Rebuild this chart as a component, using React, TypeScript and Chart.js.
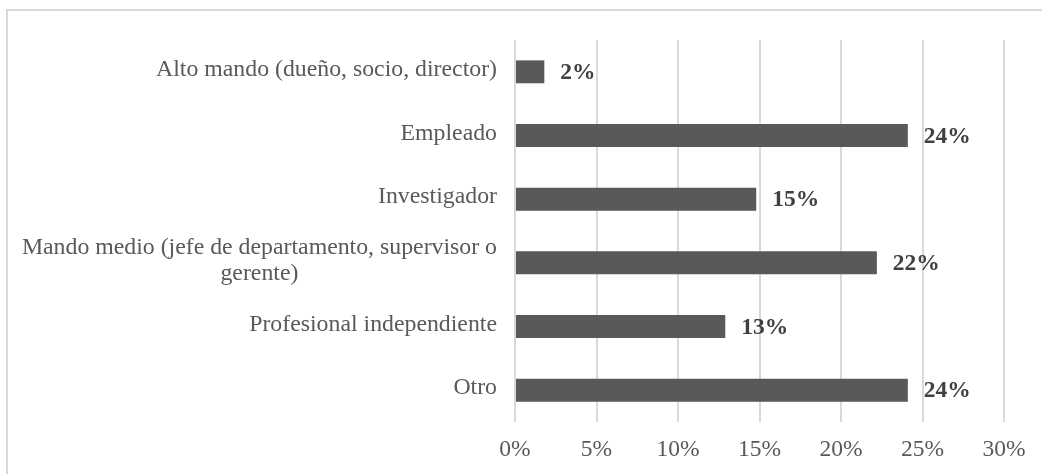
import React, { useEffect, useRef } from "react";
import { Chart, registerables } from "chart.js";

Chart.register(...registerables);

const categories: (string | string[])[] = [
  "Alto mando (dueño, socio, director)",
  "Empleado",
  "Investigador",
  ["Mando medio (jefe de departamento, supervisor o", "gerente)"],
  "Profesional independiente",
  "Otro",
];
const values: number[] = [1.8, 24.1, 14.8, 22.2, 12.9, 24.1];
const valueLabels: string[] = ["2%", "24%", "15%", "22%", "13%", "24%"];
const xTicks: number[] = [0, 5, 10, 15, 20, 25, 30];

const FONT = "'Liberation Serif', 'Times New Roman', serif";

const framePlugin = {
  id: "frame",
  beforeDraw(chart: any) {
    const ctx = chart.ctx;
    ctx.save();
    ctx.fillStyle = "#ffffff";
    ctx.fillRect(0, 0, chart.width, chart.height);
    ctx.strokeStyle = "#d9d9d9";
    ctx.lineWidth = 2;
    ctx.strokeRect(7, 10, chart.width + 50, chart.height + 50);
    ctx.restore();
  },
};

const labelsPlugin = {
  id: "catLabels",
  afterDraw(chart: any) {
    const ctx = chart.ctx;
    const yScale = chart.scales.y;
    const xScale = chart.scales.x;
    const meta = chart.getDatasetMeta(0);
    ctx.save();
    // category labels
    ctx.font = `23.8px ${FONT}`;
    ctx.fillStyle = "#595959";
    ctx.textBaseline = "middle";
    ctx.textAlign = "center";
    const rightEdge = chart.chartArea.left - 18;
    const lineH = 26;
    categories.forEach((cat, i) => {
      const lines = Array.isArray(cat) ? cat : [cat];
      const y = yScale.getPixelForValue(i);
      const maxW = Math.max(...lines.map((l) => ctx.measureText(l).width));
      const cx = rightEdge - maxW / 2;
      const startY = y - 2 - ((lines.length - 1) * lineH) / 2;
      lines.forEach((l, j) => ctx.fillText(l, cx, startY + j * lineH));
    });
    // value labels
    ctx.font = `bold 23.5px ${FONT}`;
    ctx.fillStyle = "#404040";
    ctx.textAlign = "left";
    meta.data.forEach((bar: any, i: number) => {
      const xEnd = xScale.getPixelForValue(values[i]);
      ctx.fillText(valueLabels[i], xEnd + 16, bar.y + 1);
    });
    ctx.restore();
  },
};

export default function App() {
  const ref = useRef<HTMLCanvasElement | null>(null);

  useEffect(() => {
    document.body.style.margin = "0";
    const canvas = ref.current;
    if (!canvas) return;
    const chart = new Chart(canvas, {
      type: "bar",
      data: {
        labels: categories.map((c) => (Array.isArray(c) ? c.join(" ") : c)),
        datasets: [
          {
            data: values,
            backgroundColor: "#595959",
            borderWidth: 0,
            barPercentage: 0.36,
            categoryPercentage: 1,
          },
        ],
      },
      options: {
        indexAxis: "y",
        animation: false,
        responsive: false,
        maintainAspectRatio: false,
        layout: { padding: { left: 515, top: 40, right: 38, bottom: 0 } },
        plugins: {
          legend: { display: false },
          tooltip: { enabled: false },
        },
        scales: {
          x: {
            min: 0,
            max: 30,
            afterBuildTicks(scale: any) {
              scale.ticks = xTicks.map((v) => ({ value: v }));
            },
            afterFit(scale: any) {
              scale.height = 52;
            },
            border: { display: false },
            grid: { color: "#d9d9d9", lineWidth: 2, drawTicks: false },
            ticks: {
              padding: 14,
              color: "#595959",
              font: { family: FONT, size: 23.5 },
              callback: (v: any) => `${v}%`,
            },
          },
          y: {
            display: false,
          },
        },
      },
      plugins: [framePlugin, labelsPlugin],
    });
    return () => chart.destroy();
  }, []);

  return (
    <div style={{ width: 1042, height: 474 }}>
      <canvas ref={ref} width={1042} height={474} style={{ display: "block" }} />
    </div>
  );
}
